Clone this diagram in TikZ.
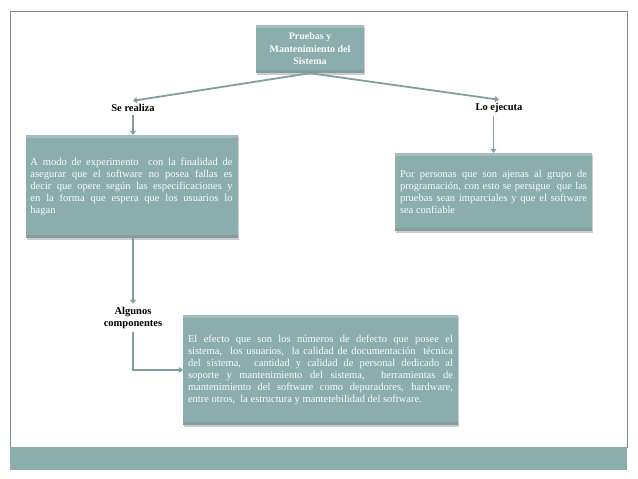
\documentclass[tikz,border=0pt]{standalone}
\usepackage{fontspec}
\setmainfont{Liberation Serif}
\usetikzlibrary{arrows.meta,shadows}
\definecolor{boxcol}{RGB}{140,173,173}
\definecolor{linecol}{RGB}{128,158,160}
\definecolor{framecol}{RGB}{122,142,142}

\begin{document}
\begin{tikzpicture}[x=1pt,y=-1pt,
    bevel/.style={fill=boxcol,draw=none,
      drop shadow={opacity=.4,shadow xshift=1pt,shadow yshift=-2pt},
      path picture={
        \fill[white,opacity=.2] (path picture bounding box.north west) rectangle ([yshift=-3pt]path picture bounding box.north east);
        \fill[black,opacity=.08] (path picture bounding box.south west) rectangle ([yshift=3pt]path picture bounding box.south east);
      }},
    textbox/.style={bevel,text=white!95!boxcol,align=justify,inner xsep=5pt,
      font=\fontsize{10.5}{12}\selectfont},
    topbox/.style={bevel,text=white!95!boxcol,align=center,
      font=\fontsize{10}{12.5}\selectfont\bfseries},
    lbl/.style={align=center,font=\fontsize{10.5}{12}\selectfont\bfseries},
    conn/.style={draw=linecol,line width=1.8pt,-{Triangle[width=6pt,length=4pt]}}]
  \useasboundingbox (0,0) rectangle (638,479);

  % frame and bottom band
  \draw[framecol,line width=1pt] (10,448) -- (10,11) -- (627,11) -- (627,448);
  \fill[boxcol] (10,447) rectangle (627,470);

  \node [topbox,minimum width=108,minimum height=48] (sist) at (310,49)
    {Pruebas y\\Mantenimiento del\\Sistema};

  \node [lbl] (realiza) at (133,108) {Se realiza};
  \node [lbl] (ejecuta) at (499,108) {Lo ejecuta};

  \node [textbox,text width=202pt,minimum height=103] (modo) at (131.5,186.5)
  {A modo de experimento \ con la finalidad de\linebreak
   asegurar que el software no posea fallas es\linebreak
   decir que opere según las especificaciones y\linebreak
   en la forma que espera que los usuarios lo\linebreak
   hagan};

  \node [textbox,text width=187pt,minimum height=78] (personas) at (493.5,192)
  {Por personas que son ajenas al grupo de\linebreak
   programación, con esto se persigue \ que las\linebreak
   pruebas sean imparciales y que el software\linebreak
   sea confiable};

  \node [lbl] (algunos) at (133,318) {Algunos\\componentes};

  \node [textbox,text width=265pt,minimum height=110] (efecto) at (320.5,370)
  {El efecto que son los números de defecto que posee el\linebreak
   sistema, \ los usuarios, \ la calidad de documentación \ técnica\linebreak
   del sistema, \ cantidad y calidad de personal dedicado al\linebreak
   soporte y mantenimiento del sistema, \ herramientas de\linebreak
   mantenimiento del software como depuradores, hardware,\linebreak
   entre otros, \ la estructura y mantetebilidad del software.};

  % connectors
  \draw [conn] (sist.south) -- (realiza.north);
  \draw [conn] (sist.south) -- (ejecuta.north);
  \draw [conn] (realiza.south) -- (realiza.south |- modo.north);
  \draw [conn] (personas.north |- ejecuta.south) -- (personas.north);
  \draw [conn] (modo.south -| algunos.north) -- (algunos.north);
  \draw [conn] (algunos.south) |- (efecto.west);
\end{tikzpicture}
\end{document}
